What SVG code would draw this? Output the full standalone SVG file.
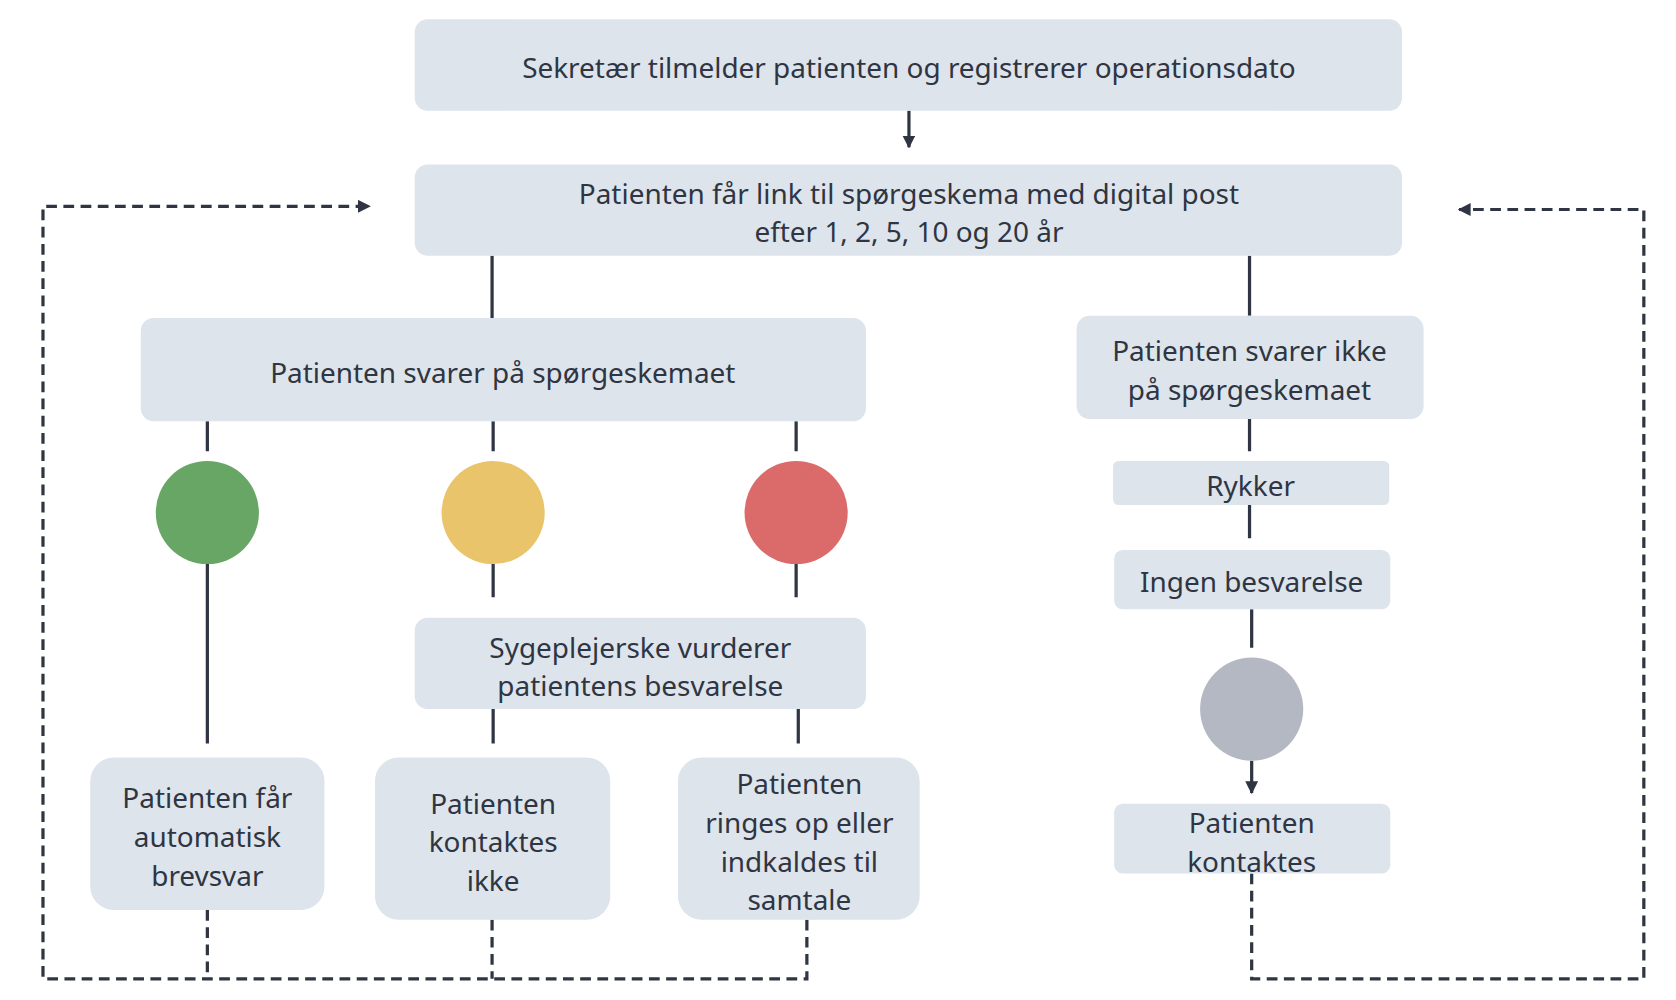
<svg xmlns="http://www.w3.org/2000/svg" width="1676" height="1000" viewBox="0 0 1676 1000">
<style>
.b{fill:#DDE4EB}
text{font-family:"Noto Sans","Open Sans",sans-serif;font-size:26px;fill:#2F3542;text-anchor:middle;dominant-baseline:central}
.l{stroke:#2F3542;stroke-width:3;fill:none}
.d{stroke:#2F3542;stroke-width:3;fill:none;stroke-dasharray:10,6}
</style>
<defs><marker id="a" viewBox="0 0 10 10" refX="9" refY="5" markerWidth="4" markerHeight="4" orient="auto"><path d="M0,0L10,5L0,10z" fill="#2F3542"/></marker></defs>
<rect width="1676" height="1000" fill="#fff"/>
<g transform="scale(1.0744)">
<g id="connectors">
<path class="l" d="M846,103V137" marker-end="url(#a)"/>
<path class="l" d="M458,238V296M1163,238V294"/>
<path class="l" d="M193,392V420M459,392V420M741,392V420M459,525V556M741,525V556M193,525V692M459,660V692M743,660V692M1163,390V420M1163,470V501M1165,567V603M1165,708V738" marker-end="url(#a)"/>
<path class="d" d="M193,847V911M458,856V911M751,856V911H40V192H344" marker-end="url(#a)"/>
<path class="d" d="M1165,813V911H1530V195H1358" marker-end="url(#a)"/>
</g>
<g id="n1"><rect class="b" x="386" y="18" width="919" height="85" rx="12"/><text x="846" y="62">Sekretær tilmelder patienten og registrerer operationsdato</text></g>
<g id="n2"><rect class="b" x="386" y="153" width="919" height="85" rx="12"/><text x="846" y="180">Patienten får link til spørgeskema med digital post</text><text x="846" y="215">efter 1, 2, 5, 10 og 20 år</text></g>
<g id="n3"><rect class="b" x="131" y="296" width="675" height="96" rx="12"/><text x="468" y="346">Patienten svarer på spørgeskemaet</text></g>
<g id="n4"><rect class="b" x="1002" y="294" width="323" height="96" rx="12"/><text x="1163" y="326">Patienten svarer ikke</text><text x="1163" y="362">på spørgeskemaet</text></g>
<g id="green"><circle cx="193" cy="477" r="48" fill="#68A665"/></g>
<g id="yellow"><circle cx="459" cy="477" r="48" fill="#E9C46A"/></g>
<g id="red"><circle cx="741" cy="477" r="48" fill="#DB6B6B"/></g>
<g id="n5"><rect class="b" x="386" y="575" width="420" height="85" rx="12"/><text x="596" y="602">Sygeplejerske vurderer</text><text x="596" y="638">patientens besvarelse</text></g>
<g id="n6"><rect class="b" x="84" y="705" width="218" height="142" rx="22"/><text x="193" y="742">Patienten får</text><text x="193" y="778">automatisk</text><text x="193" y="814">brevsvar</text></g>
<g id="n7"><rect class="b" x="349" y="705" width="219" height="151" rx="22"/><text x="459" y="747">Patienten</text><text x="459" y="783">kontaktes</text><text x="459" y="819">ikke</text></g>
<g id="n8"><rect class="b" x="631" y="705" width="225" height="151" rx="22"/><text x="744" y="729">Patienten</text><text x="744" y="765">ringes op eller</text><text x="744" y="801">indkaldes til</text><text x="744" y="837">samtale</text></g>
<g id="n9"><rect class="b" x="1036" y="429" width="257" height="41" rx="5"/><text x="1164" y="451">Rykker</text></g>
<g id="n10"><rect class="b" x="1037" y="512" width="257" height="55" rx="8"/><text x="1165" y="541">Ingen besvarelse</text></g>
<g id="grey"><circle cx="1165" cy="660" r="48" fill="#B3B8C3"/></g>
<g id="n11"><rect class="b" x="1037" y="748" width="257" height="65" rx="8"/><text x="1165" y="765">Patienten</text><text x="1165" y="801">kontaktes</text></g>
</g>
</svg>
